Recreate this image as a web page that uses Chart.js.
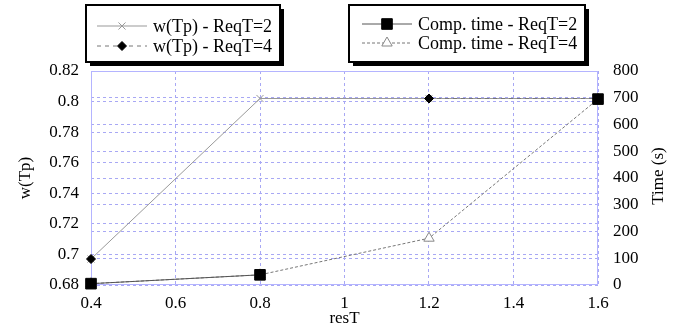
<!DOCTYPE html>
<html>
<head>
<meta charset="utf-8">
<script src="https://cdn.jsdelivr.net/npm/chart.js@4"></script>
<style>
  html, body { margin: 0; padding: 0; background: #fff; }
  #wrap { width: 675px; height: 323px; position: relative; }
</style>
</head>
<body>
<div id="wrap"><canvas id="chart"></canvas></div>
<script>
// data
const resT = [0.4, 0.8, 1.2, 1.6];
const wReq2 = [0.697, 0.802, 0.802, 0.802];
const wReq4 = [0.697, null, 0.802, 0.802];
const timeReq2 = [5, 38, null, 695];
const timeReq4 = [5, 38, 175, 695];

const xTicks = [0.4, 0.6, 0.8, 1, 1.2, 1.4, 1.6];
const wTicks = [0.68, 0.7, 0.72, 0.74, 0.76, 0.78, 0.8, 0.82];
const timeTicks = [0, 100, 200, 300, 400, 500, 600, 700, 800];

const legendLeft = ["w(Tp) - ReqT=2", "w(Tp) - ReqT=4"];
const legendRight = ["Comp. time - ReqT=2", "Comp. time - ReqT=4"];

const serif = "'Liberation Serif', 'Times New Roman', 'DejaVu Serif', serif";
const gridColor = '#a8a8f4';
const frameColor = '#b4b4ff';

const pts = (ys) => resT.map((x, i) => ({x: x, y: ys[i]}));

// legend boxes, right axis title and plot frame
const extras = {
  id: 'extras',
  beforeDatasetsDraw(chart) {
    const {ctx, chartArea: a} = chart;
    ctx.save();
    ctx.strokeStyle = frameColor;
    ctx.lineWidth = 1;
    ctx.strokeRect(a.left + 0.5, a.top + 0.5, a.right - a.left - 1, a.bottom - a.top - 1);
    ctx.restore();
  },
  afterDraw(chart) {
    const ctx = chart.ctx;
    const drawBox = (x, y, w, h) => {
      ctx.fillStyle = '#000';
      ctx.fillRect(x + 4, y + 4, w, h);
      ctx.fillStyle = '#fff';
      ctx.fillRect(x, y, w, h);
      ctx.strokeStyle = '#000';
      ctx.lineWidth = 2;
      ctx.strokeRect(x, y, w, h);
    };
    const drawItem = (x0, x1, y, ds, text) => {
      ctx.save();
      ctx.strokeStyle = ds.borderColor;
      ctx.lineWidth = 1;
      ctx.setLineDash(ds.borderDash || []);
      ctx.beginPath();
      ctx.moveTo(x0, y);
      ctx.lineTo(x1, y);
      ctx.stroke();
      ctx.setLineDash([]);
      ctx.fillStyle = ds.pointBackgroundColor;
      ctx.strokeStyle = ds.pointBorderColor;
      ctx.lineWidth = ds.pointBorderWidth;
      Chart.helpers.drawPoint(ctx, {pointStyle: ds.pointStyle, radius: ds.pointRadius, rotation: 0, borderWidth: ds.pointBorderWidth}, (x0 + x1) / 2, y);
      ctx.fillStyle = '#000';
      ctx.font = '18px ' + serif;
      ctx.textBaseline = 'middle';
      ctx.textAlign = 'left';
      ctx.fillText(text, x1 + 6, y + 1);
      ctx.restore();
    };
    const d = chart.data.datasets;
    drawBox(86, 5, 194, 57);
    drawItem(97, 147, 26, d[2], legendLeft[0]);
    drawItem(97, 147, 46, d[1], legendLeft[1]);
    drawBox(349, 5, 236, 57);
    drawItem(362, 412, 24, d[0], legendRight[0]);
    drawItem(362, 412, 43, d[3], legendRight[1]);

    // right axis title, reads bottom to top
    const a = chart.chartArea;
    ctx.save();
    ctx.translate(659, (a.top + a.bottom) / 2 - 2);
    ctx.rotate(-Math.PI / 2);
    ctx.fillStyle = '#000';
    ctx.font = '17px ' + serif;
    ctx.textAlign = 'center';
    ctx.textBaseline = 'middle';
    ctx.fillText('Time (s)', 0, 0);
    ctx.restore();
  }
};

const tickFont = {family: serif, size: 17};

new Chart(document.getElementById('chart'), {
  type: 'line',
  data: {
    datasets: [
      {
        label: legendRight[0], data: pts(timeReq2), yAxisID: 'y1', clip: false,
        borderColor: '#555', borderWidth: 1,
        pointStyle: 'rect', pointRadius: 7.5, pointBackgroundColor: '#000', pointBorderColor: '#000', pointBorderWidth: 1
      },
      {
        label: legendLeft[1], data: pts(wReq4), yAxisID: 'y', clip: false,
        borderColor: '#777', borderWidth: 1, borderDash: [4, 4],
        pointStyle: 'rectRot', pointRadius: 4.5, pointBackgroundColor: '#000', pointBorderColor: '#000', pointBorderWidth: 1
      },
      {
        label: legendLeft[0], data: pts(wReq2), yAxisID: 'y', clip: false,
        borderColor: '#999', borderWidth: 1,
        pointStyle: 'crossRot', pointRadius: 5, pointBackgroundColor: '#999', pointBorderColor: '#999', pointBorderWidth: 1
      },
      {
        label: legendRight[1], data: pts(timeReq4), yAxisID: 'y1', clip: false,
        borderColor: '#777', borderWidth: 1, borderDash: [3, 2],
        pointStyle: 'triangle', pointRadius: 6, pointBackgroundColor: '#fff', pointBorderColor: '#888', pointBorderWidth: 1
      }
    ]
  },
  options: {
    responsive: true,
    maintainAspectRatio: false,
    animation: false,
    spanGaps: false,
    layout: {padding: {top: 71, left: 0, right: 0, bottom: 0}},
    plugins: {legend: {display: false}, tooltip: {enabled: false}},
    scales: {
      x: {
        type: 'linear', min: 0.4, max: 1.6,
        afterBuildTicks: (s) => { s.ticks = xTicks.map(v => ({value: v})); },
        afterFit: (s) => { s.height = 38; },
        ticks: {font: tickFont, color: '#000', padding: 8, maxRotation: 0, callback: (v) => String(v)},
        grid: {color: gridColor, drawTicks: false},
        border: {display: false, dash: [3, 3]},
        title: {display: true, text: 'resT', font: {family: serif, size: 17}, color: '#000', padding: {top: 0, bottom: -6}}
      },
      y: {
        position: 'left', min: 0.68, max: 0.82,
        afterBuildTicks: (s) => { s.ticks = wTicks.map(v => ({value: v})); },
        afterFit: (s) => { s.width = 91; },
        ticks: {font: tickFont, color: '#000', padding: 12, callback: (v) => String(v)},
        grid: {color: gridColor, drawTicks: false},
        border: {display: false, dash: [3, 3]},
        title: {display: true, text: 'w(Tp)', font: {family: serif, size: 17}, color: '#000', padding: {top: 15, bottom: 0}}
      },
      y1: {
        position: 'right', min: 0, max: 800,
        afterBuildTicks: (s) => { s.ticks = timeTicks.map(v => ({value: v})); },
        afterFit: (s) => { s.width = 77; },
        ticks: {font: tickFont, color: '#000', padding: 15, callback: (v) => String(v)},
        grid: {color: gridColor, drawTicks: false},
        border: {display: false, dash: [3, 3]}
      }
    }
  },
  plugins: [extras]
});
</script>
</body>
</html>
